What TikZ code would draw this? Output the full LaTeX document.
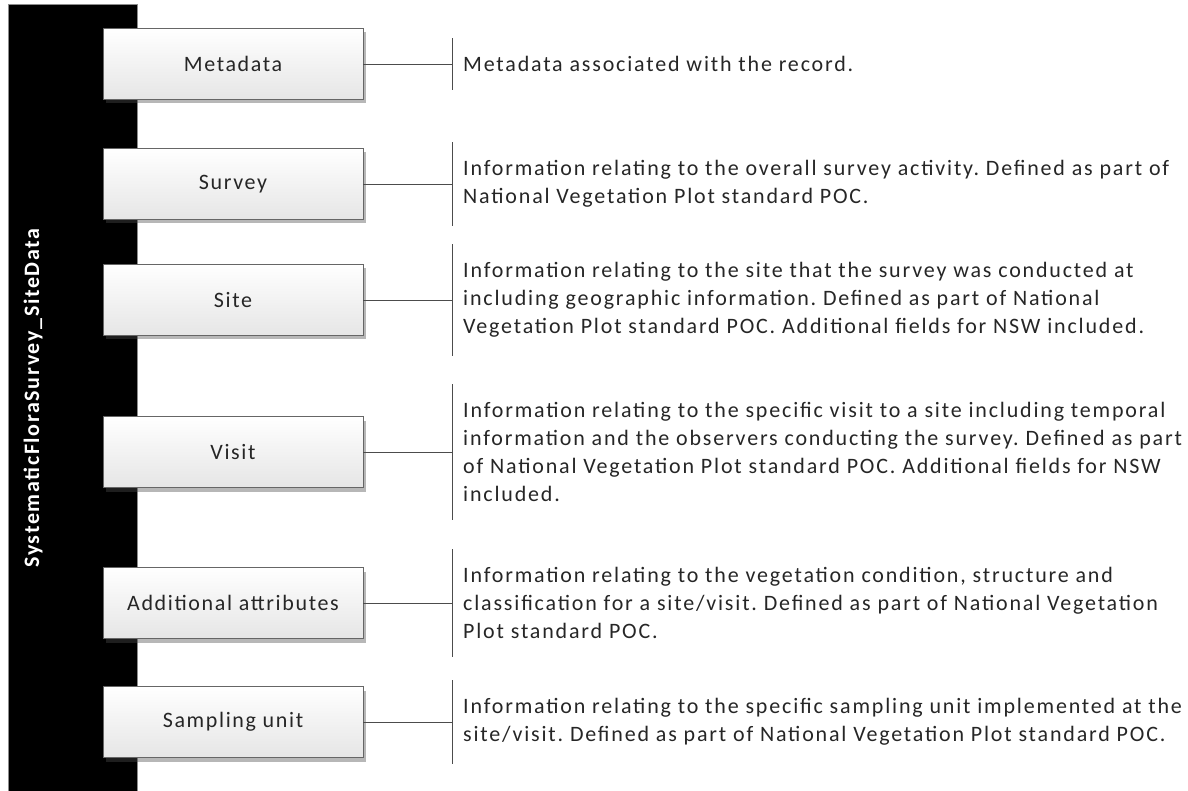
\documentclass[tikz,border=0pt]{standalone}
\usepackage{fontspec}
\setmainfont{Carlito}[LetterSpace=8.3]
\usetikzlibrary{shadows}
\frenchspacing

\begin{document}
\begin{tikzpicture}[
        x=1pt, y=-1pt,
        font=\fontsize{22}{28}\selectfont,
        entity/.style={
            draw=black!60,
            line width=0.9pt,
            minimum width=260pt,
            minimum height=71pt,
            top color=white,
            bottom color=black!10,
            drop shadow={shadow xshift=3pt, shadow yshift=-4pt, opacity=0.4, fill=black!70},
            text=black!85,
            font=\fontsize{22}{28}\selectfont\addfontfeatures{LetterSpace=7.5}
        },
        desc/.style={
            align=left,
            anchor=west,
            inner xsep=11pt,
            inner ysep=18pt,
            text=black!85
        },
        bracket/.style={draw=black!70, line width=0.9pt}
    ]
    \useasboundingbox (0,0) rectangle (1188,791);
    % Balken
    \filldraw[fill=black, draw=black!45, line width=1pt] (8,5) rectangle (137,800);
    \node[rotate=90, text=white,
          font=\bfseries\fontsize{22}{26}\selectfont\addfontfeatures{LetterSpace=7.5}] (root) at (33,398)
        {SystematicFloraSurvey\_SiteData};
    % Felder
    \node[entity] (meta)   at (233,64)  {Metadata};
    \node[entity] (survey) at (233,184) {Survey};
    \node[entity] (site)   at (233,300) {Site};
    \node[entity] (visit)  at (233,452) {Visit};
    \node[entity] (attr)   at (233,603) {Additional attributes};
    \node[entity] (unit)   at (233,722) {Sampling unit};
    % Beschreibungen
    \node[desc] (dmeta) at (452,64)
        {Metadata associated with the record.};
    \node[desc] (dsurvey) at (452,184)
        {Information relating to the overall survey activity. Defined as part of\\
         National Vegetation Plot standard POC.};
    \node[desc] (dsite) at (452,300)
        {Information relating to the site that the survey was conducted at\\
         including geographic information. Defined as part of National\\
         Vegetation Plot standard POC. Additional fields for NSW included.};
    \node[desc] (dvisit) at (452,452)
        {Information relating to the specific visit to a site including temporal\\
         information and the observers conducting the survey. Defined as part\\
         of National Vegetation Plot standard POC. Additional fields for NSW\\
         included.};
    \node[desc] (dattr) at (452,603)
        {Information relating to the vegetation condition, structure and\\
         classification for a site/visit. Defined as part of National Vegetation\\
         Plot standard POC.};
    \node[desc] (dunit) at (452,722)
        {Information relating to the specific sampling unit implemented at the\\
         site/visit. Defined as part of National Vegetation Plot standard POC.};
    % Verbindungen
    \foreach \n in {meta, survey, site, visit, attr, unit} {
        \draw[bracket] (\n.east) -- (d\n.west);
        \draw[bracket] (d\n.north west) -- (d\n.south west);
    }
\end{tikzpicture}
\end{document}
